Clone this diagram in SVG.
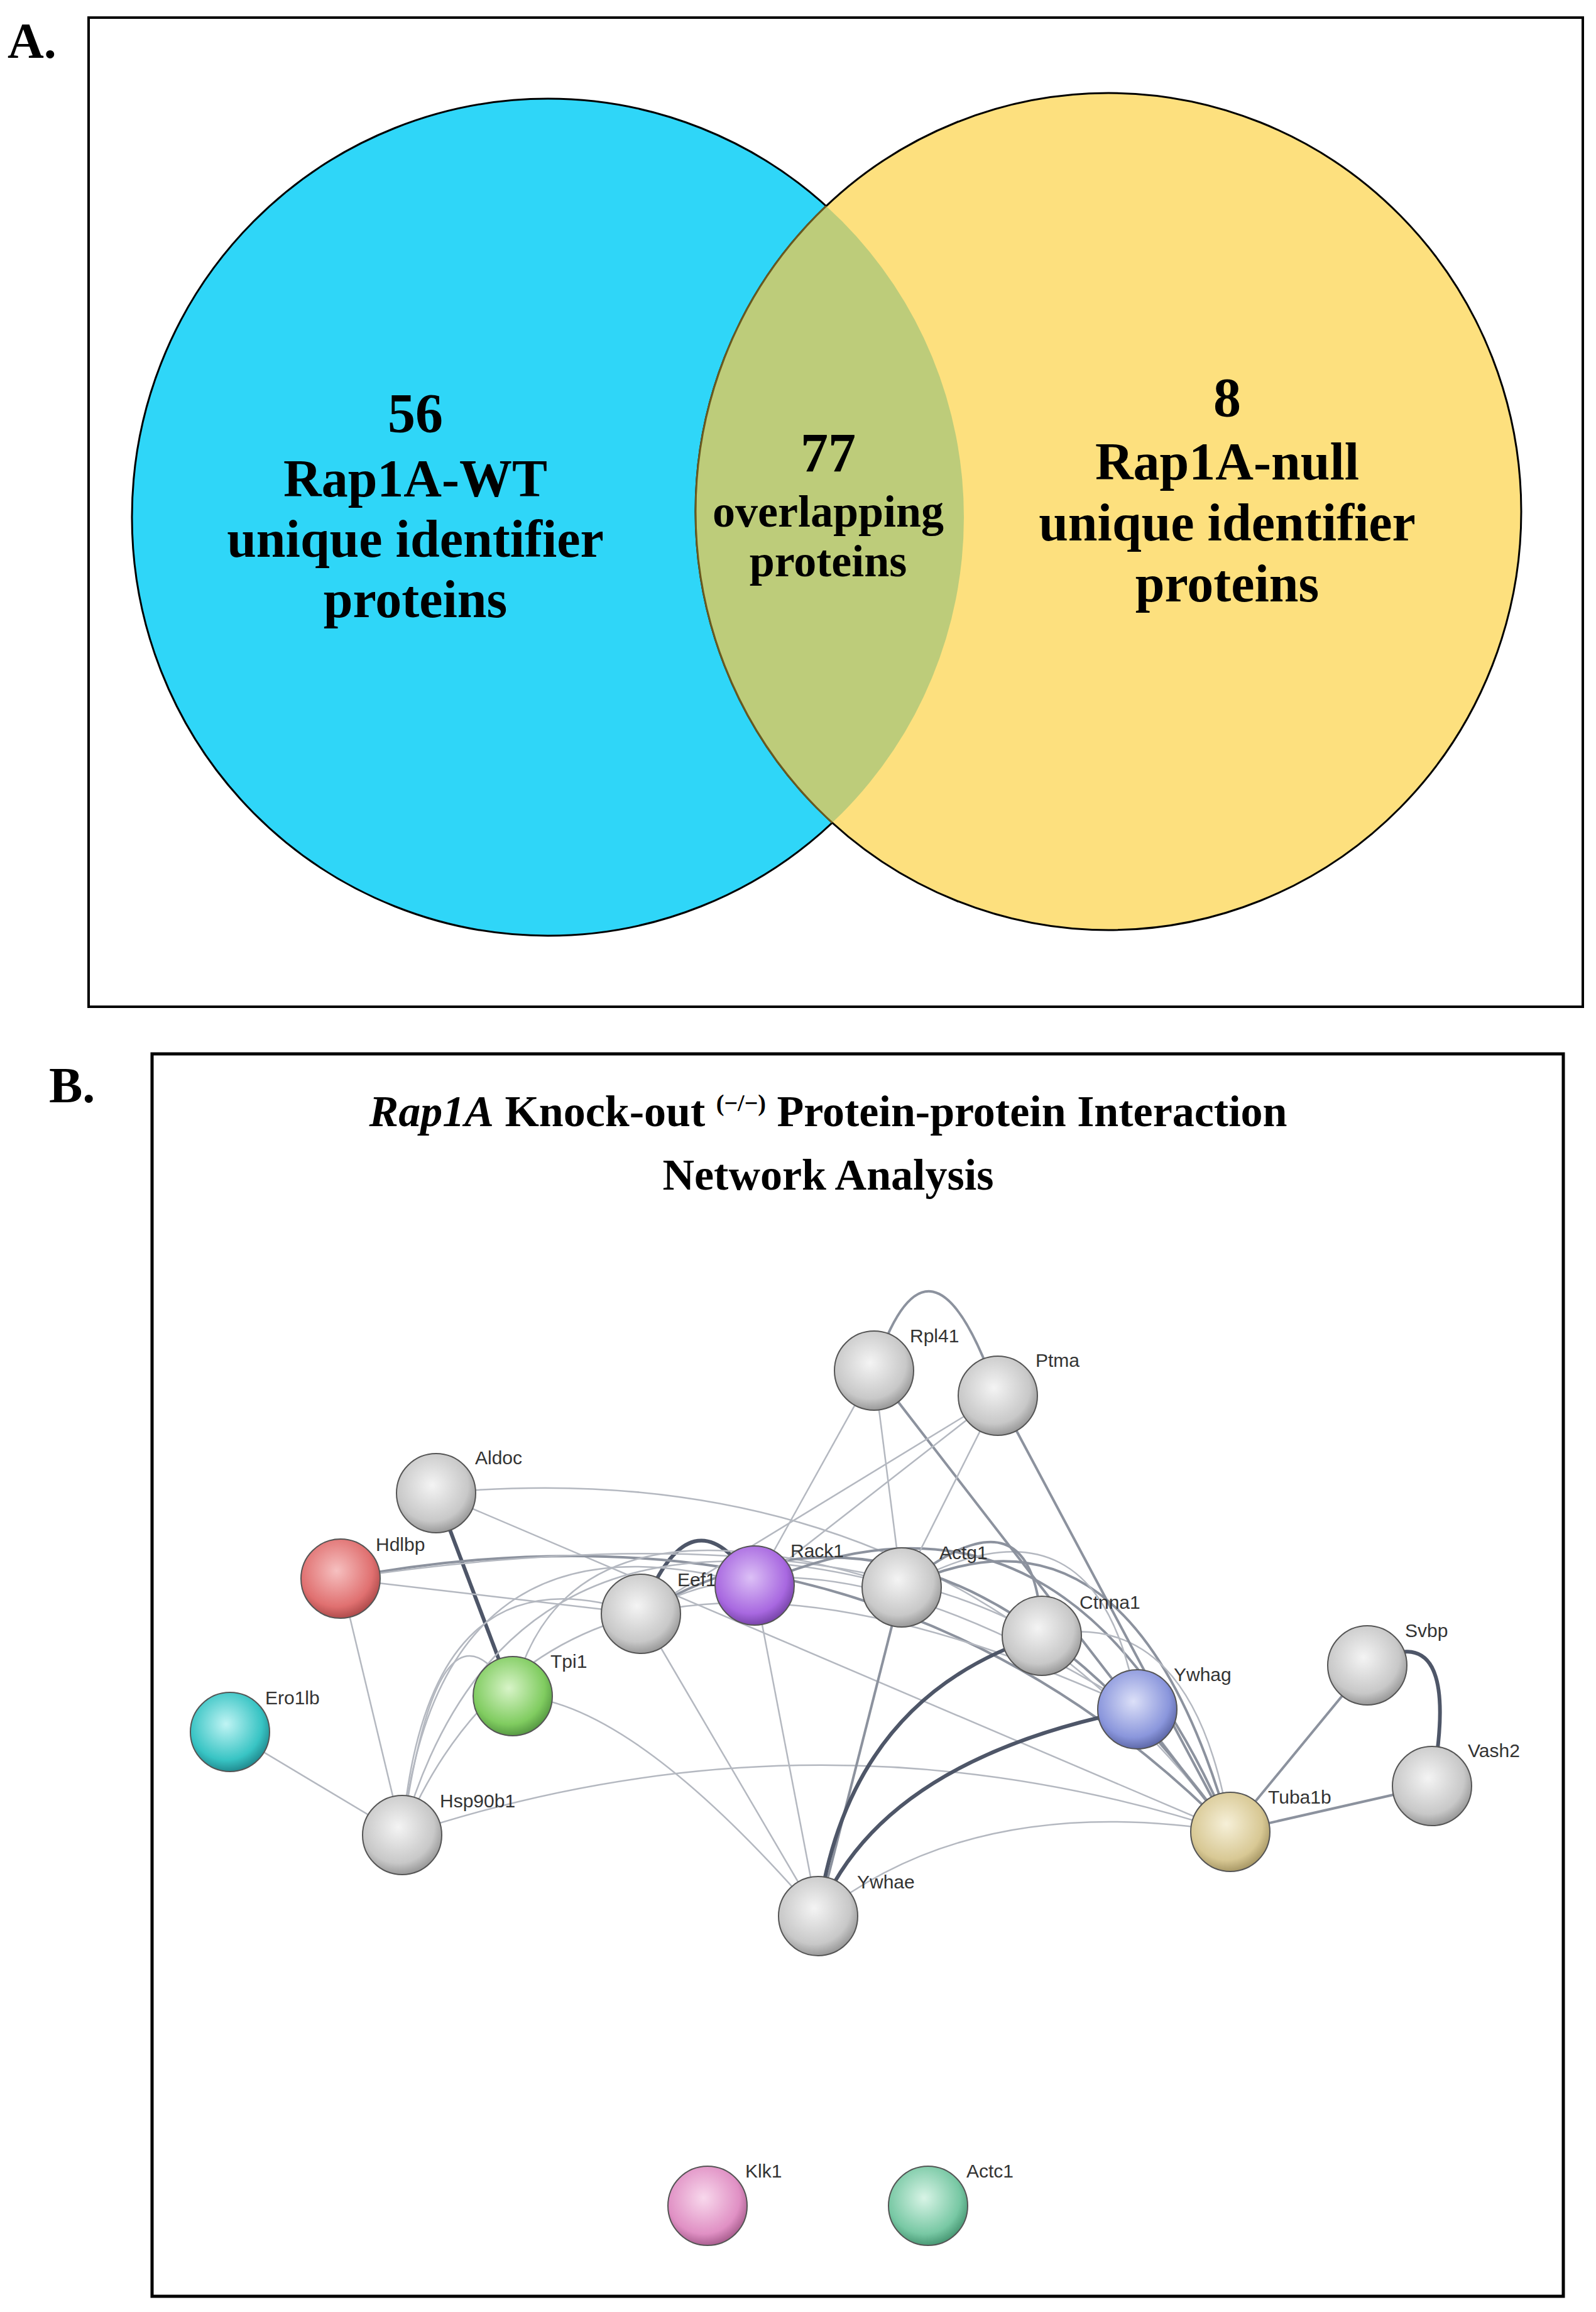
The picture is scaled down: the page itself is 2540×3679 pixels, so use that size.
<svg xmlns="http://www.w3.org/2000/svg" width="2540" height="3679" viewBox="0 0 2540 3679">
<style>
.big{font-family:"Liberation Serif",serif;font-weight:bold;fill:#000;text-anchor:middle}
.lbl{font-family:"Liberation Sans",Arial,sans-serif;font-size:30px;fill:#333}
.t{fill:none;stroke:#b4b8c0;stroke-width:2.5}
.m{fill:none;stroke:#8c929e;stroke-width:4}
.k{fill:none;stroke:#4e5668;stroke-width:6}
.rim{stroke:#555;stroke-width:2}
</style>
<defs>
<clipPath id="clipBlue"><ellipse cx="872" cy="823" rx="662" ry="666"/></clipPath>
<radialGradient id="gGray" cx="0.45" cy="0.4" r="0.65"><stop offset="0" stop-color="#f4f4f4"/><stop offset="0.7" stop-color="#c8c8c8"/><stop offset="1" stop-color="#8a8a8a"/></radialGradient>
<radialGradient id="gRed" cx="0.45" cy="0.4" r="0.65"><stop offset="0" stop-color="#f6c0c0"/><stop offset="0.7" stop-color="#e07070"/><stop offset="1" stop-color="#a04040"/></radialGradient>
<radialGradient id="gPur" cx="0.45" cy="0.4" r="0.65"><stop offset="0" stop-color="#dcc0f6"/><stop offset="0.7" stop-color="#a868e0"/><stop offset="1" stop-color="#6a3a9a"/></radialGradient>
<radialGradient id="gGrn" cx="0.45" cy="0.4" r="0.65"><stop offset="0" stop-color="#d8f4c8"/><stop offset="0.7" stop-color="#80cc60"/><stop offset="1" stop-color="#4a8a3a"/></radialGradient>
<radialGradient id="gTeal" cx="0.45" cy="0.4" r="0.65"><stop offset="0" stop-color="#c0f4f4"/><stop offset="0.7" stop-color="#38c4c4"/><stop offset="1" stop-color="#1a7a80"/></radialGradient>
<radialGradient id="gBlue" cx="0.45" cy="0.4" r="0.65"><stop offset="0" stop-color="#dce0f8"/><stop offset="0.7" stop-color="#8a96dc"/><stop offset="1" stop-color="#505a98"/></radialGradient>
<radialGradient id="gBei" cx="0.45" cy="0.4" r="0.65"><stop offset="0" stop-color="#f6f0d8"/><stop offset="0.7" stop-color="#d8c894"/><stop offset="1" stop-color="#9a8a58"/></radialGradient>
<radialGradient id="gPink" cx="0.45" cy="0.4" r="0.65"><stop offset="0" stop-color="#f8d8ec"/><stop offset="0.7" stop-color="#e090c4"/><stop offset="1" stop-color="#9a5080"/></radialGradient>
<radialGradient id="gMint" cx="0.45" cy="0.4" r="0.65"><stop offset="0" stop-color="#d8f4e6"/><stop offset="0.7" stop-color="#78c8a4"/><stop offset="1" stop-color="#3a8a66"/></radialGradient>
</defs>
<rect width="2540" height="3679" fill="#fff"/>

<g id="panelA">
<text x="12" y="92" class="big" style="font-size:80px;text-anchor:start">A.</text>
<rect x="141" y="28" width="2378" height="1574" fill="none" stroke="#000" stroke-width="4"/>
<ellipse cx="872" cy="823" rx="662" ry="666" fill="#2fd6f8" stroke="#000" stroke-width="3"/>
<ellipse cx="1764" cy="814" rx="657" ry="666" fill="#fde07e" stroke="#000" stroke-width="3"/>
<ellipse cx="1764" cy="814" rx="657" ry="666" fill="#bdcc7a" stroke="#6a5a20" stroke-width="3" clip-path="url(#clipBlue)"/>
<g class="big" style="font-size:88px">
<text x="661" y="687">56</text>
<text x="661" y="790" style="font-size:84px">Rap1A-WT</text>
<text x="661" y="886" style="font-size:84px">unique identifier</text>
<text x="661" y="982" style="font-size:84px">proteins</text>
<text x="1318" y="750">77</text>
<text x="1318" y="838" style="font-size:72px">overlapping</text>
<text x="1318" y="917" style="font-size:72px">proteins</text>
<text x="1953" y="662">8</text>
<text x="1953" y="763" style="font-size:84px">Rap1A-null</text>
<text x="1953" y="860" style="font-size:84px">unique identifier</text>
<text x="1953" y="957" style="font-size:84px">proteins</text>
</g>
</g>

<g id="panelB">
<text x="78" y="1754" class="big" style="font-size:80px;text-anchor:start">B.</text>
<rect x="242" y="1677" width="2246" height="1977" fill="none" stroke="#000" stroke-width="5"/>
<text x="1318" y="1792" class="big" style="font-size:70px"><tspan font-style="italic">Rap1A</tspan> Knock-out <tspan font-size="38" dy="-24">(−/−)</tspan><tspan dy="24"> Protein-protein Interaction</tspan></text>
<text x="1318" y="1893" class="big" style="font-size:70px">Network Analysis</text>
</g>

<g id="connectors">
<path class="m" d="M1391,2181 Q1480,1910 1588,2221"/>
<path class="k" d="M2176,2650 Q2330,2560 2279,2842"/>
<path class="k" d="M694,2376 L816,2699"/>
<path class="k" d="M1020,2568 Q1100,2360 1201,2523"/>
<path class="m" d="M1958,2915 L2176,2650"/>
<path class="m" d="M1958,2915 L2279,2842"/>
<path class="t" d="M366,2756 L640,2920"/>
<path class="t" d="M542,2512 L640,2920"/>
<path class="t" d="M694,2376 Q1500,2300 1958,2915"/>
<path class="t" d="M694,2376 L1958,2915"/>
<path class="m" d="M542,2512 Q1400,2350 1958,2915"/>
<path class="t" d="M542,2512 L1020,2568"/>
<path class="t" d="M542,2512 Q1300,2400 1658,2603"/>
<path class="t" d="M640,2920 Q680,2450 1020,2568"/>
<path class="t" d="M640,2920 Q700,2380 1201,2523"/>
<path class="t" d="M640,2920 Q800,2350 1435,2526"/>
<path class="t" d="M640,2920 Q700,2500 816,2699"/>
<path class="t" d="M640,2920 Q1300,2700 1958,2915"/>
<path class="t" d="M640,2920 Q900,2300 1810,2720"/>
<path class="t" d="M816,2699 Q1000,2700 1302,3049"/>
<path class="t" d="M816,2699 Q900,2350 1435,2526"/>
<path class="t" d="M1020,2568 L1302,3049"/>
<path class="t" d="M1201,2523 L1302,3049"/>
<path class="m" d="M1435,2526 L1302,3049"/>
<path class="k" d="M1658,2603 Q1350,2700 1302,3049"/>
<path class="k" d="M1810,2720 Q1400,2800 1302,3049"/>
<path class="t" d="M1958,2915 Q1550,2850 1302,3049"/>
<path class="m" d="M1020,2568 Q1500,2280 1958,2915"/>
<path class="m" d="M1201,2523 Q1700,2300 1958,2915"/>
<path class="m" d="M1435,2526 Q1800,2350 1958,2915"/>
<path class="t" d="M1435,2526 Q1750,2350 1810,2720"/>
<path class="m" d="M1435,2526 Q1650,2350 1658,2603"/>
<path class="t" d="M1658,2603 Q1900,2550 1958,2915"/>
<path class="t" d="M1810,2720 L1958,2915"/>
<path class="t" d="M1391,2181 L1201,2523"/>
<path class="t" d="M1391,2181 L1435,2526"/>
<path class="m" d="M1391,2181 L1958,2915"/>
<path class="t" d="M1588,2221 L1201,2523"/>
<path class="t" d="M1588,2221 L1435,2526"/>
<path class="t" d="M1588,2221 L1020,2568"/>
<path class="m" d="M1588,2221 L1958,2915"/>
<path class="t" d="M1020,2568 Q1300,2400 1810,2720"/>
</g>

<g id="Rpl41"><circle cx="1391" cy="2181" r="63" fill="url(#gGray)" class="rim"/><text x="1448" y="2136" class="lbl">Rpl41</text></g>
<g id="Ptma"><circle cx="1588" cy="2221" r="63" fill="url(#gGray)" class="rim"/><text x="1648" y="2175" class="lbl">Ptma</text></g>
<g id="Aldoc"><circle cx="694" cy="2376" r="63" fill="url(#gGray)" class="rim"/><text x="756" y="2330" class="lbl">Aldoc</text></g>
<g id="Hdlbp"><circle cx="542" cy="2512" r="63" fill="url(#gRed)" class="rim"/><text x="598" y="2468" class="lbl">Hdlbp</text></g>
<g id="Eef1g"><circle cx="1020" cy="2568" r="63" fill="url(#gGray)" class="rim"/><text x="1078" y="2524" class="lbl">Eef1g</text></g>
<g id="Rack1"><circle cx="1201" cy="2523" r="63" fill="url(#gPur)" class="rim"/><text x="1258" y="2478" class="lbl">Rack1</text></g>
<g id="Actg1"><circle cx="1435" cy="2526" r="63" fill="url(#gGray)" class="rim"/><text x="1495" y="2481" class="lbl">Actg1</text></g>
<g id="Ctnna1"><circle cx="1658" cy="2603" r="63" fill="url(#gGray)" class="rim"/><text x="1718" y="2560" class="lbl">Ctnna1</text></g>
<g id="Ywhag"><circle cx="1810" cy="2720" r="63" fill="url(#gBlue)" class="rim"/><text x="1868" y="2675" class="lbl">Ywhag</text></g>
<g id="Tpi1"><circle cx="816" cy="2699" r="63" fill="url(#gGrn)" class="rim"/><text x="876" y="2654" class="lbl">Tpi1</text></g>
<g id="Ero1lb"><circle cx="366" cy="2756" r="63" fill="url(#gTeal)" class="rim"/><text x="422" y="2712" class="lbl">Ero1lb</text></g>
<g id="Hsp90b1"><circle cx="640" cy="2920" r="63" fill="url(#gGray)" class="rim"/><text x="700" y="2876" class="lbl">Hsp90b1</text></g>
<g id="Ywhae"><circle cx="1302" cy="3049" r="63" fill="url(#gGray)" class="rim"/><text x="1364" y="3005" class="lbl">Ywhae</text></g>
<g id="Tuba1b"><circle cx="1958" cy="2915" r="63" fill="url(#gBei)" class="rim"/><text x="2018" y="2870" class="lbl">Tuba1b</text></g>
<g id="Svbp"><circle cx="2176" cy="2650" r="63" fill="url(#gGray)" class="rim"/><text x="2236" y="2605" class="lbl">Svbp</text></g>
<g id="Vash2"><circle cx="2279" cy="2842" r="63" fill="url(#gGray)" class="rim"/><text x="2336" y="2796" class="lbl">Vash2</text></g>
<g id="Klk1"><circle cx="1126" cy="3510" r="63" fill="url(#gPink)" class="rim"/><text x="1186" y="3465" class="lbl">Klk1</text></g>
<g id="Actc1"><circle cx="1477" cy="3510" r="63" fill="url(#gMint)" class="rim"/><text x="1538" y="3465" class="lbl">Actc1</text></g>
</svg>
